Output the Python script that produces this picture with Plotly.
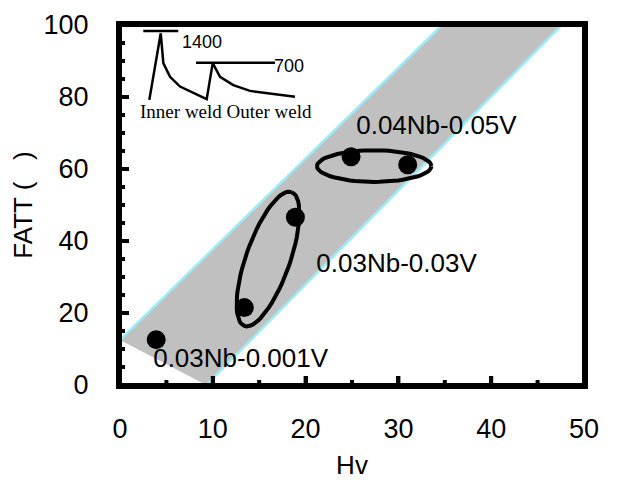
import plotly.graph_objects as go
import numpy as np

# ---- data ----
hv = [3.9, 13.4, 18.9, 24.9, 31.0]
fatt = [12.6, 21.5, 46.6, 63.4, 61.2]

band_upper_x = [0.0, 34.7]
band_upper_y = [12.5, 100.0]
band_lower_x = [9.3, 47.6]
band_lower_y = [0.0, 100.0]

group_labels = ["0.03Nb-0.001V", "0.03Nb-0.03V", "0.04Nb-0.05V"]
label_x = [13.0, 29.8, 34.1]
label_y = [6.7, 33.1, 71.4]

ell_cx = [15.95, 27.39]
ell_cy = [35.0, 60.8]
ell_a = [71.0, 57.2]
ell_b = [22.0, 15.8]
ell_ang = [70.6, 0.0]

cyc_x = [3.16, 4.39, 4.67, 5.39, 6.47, 9.34, 9.99, 10.78, 12.21, 14.01, 18.86]
cyc_y = [79.2, 97.7, 89.4, 85.6, 82.9, 79.4, 89.4, 85.6, 83.3, 81.7, 80.1]
peak1_x = [2.51, 6.28]
peak1_y = [98.3, 98.3]
peak2_x = [8.19, 16.7]
peak2_y = [89.5, 89.5]
inset_labels = ["1400", "700"]
inset_label_x = [8.84, 18.2]
inset_label_y = [95.0, 88.3]
weld_label = "Inner weld Outer weld"
weld_label_x = 11.4
weld_label_y = 75.6

x_range = [0, 50]
y_range = [0, 100]
x_ticks = [0, 10, 20, 30, 40, 50]
y_ticks = [0, 20, 40, 60, 80, 100]
x_minor = [5, 15, 25, 35, 45]
y_minor = [5, 10, 15, 25, 30, 35, 45, 50, 55, 65, 70, 75, 85, 90, 95]

W, H = 621, 482
ML, MR, MT, MB = 120, 37, 25, 97
PW, PH = W - ML - MR, H - MT - MB
sx = PW / (x_range[1] - x_range[0])
sy = PH / (y_range[1] - y_range[0])

SANS = "Liberation Sans, Arial"

fig = go.Figure()

bx = [band_lower_x[0], band_upper_x[0], band_upper_x[1], band_lower_x[1], band_lower_x[0]]
by = [band_lower_y[0], band_upper_y[0], band_upper_y[1], band_lower_y[1], band_lower_y[0]]
fig.add_trace(go.Scatter(x=[0] + bx, y=[0] + by, mode="lines", fill="toself",
                         fillcolor="#C0C0C0", line=dict(color="rgba(0,0,0,0)", width=0),
                         hoverinfo="skip", showlegend=False))
for lx, ly in [(band_upper_x, band_upper_y), (band_lower_x, band_lower_y)]:
    fig.add_trace(go.Scatter(x=lx, y=ly, mode="lines", line=dict(color="#9CECF6", width=2.5),
                             hoverinfo="skip", showlegend=False))

for xs, ys in [(cyc_x, cyc_y), (peak1_x, peak1_y), (peak2_x, peak2_y)]:
    fig.add_trace(go.Scatter(x=xs, y=ys, mode="lines", line=dict(color="black", width=2.5),
                             hoverinfo="skip", showlegend=False))

fig.add_trace(go.Scatter(x=hv, y=fatt, mode="markers",
                         marker=dict(color="black", size=19), showlegend=False))

# ellipses as line traces
t = np.linspace(0, 2 * np.pi, 73)
for cx, cy, a, b, ang in zip(ell_cx, ell_cy, ell_a, ell_b, ell_ang):
    th = np.deg2rad(ang)
    px = a * np.cos(t) * np.cos(th) - b * np.sin(t) * np.sin(th)
    py = a * np.cos(t) * np.sin(th) + b * np.sin(t) * np.cos(th)
    fig.add_trace(go.Scatter(x=cx + px / sx, y=cy + py / sy, mode="lines",
                             line=dict(color="black", width=4), hoverinfo="skip", showlegend=False))

# frame and inward ticks (drawn as traces, before any text)
x0, x1 = x_range
y0, y1 = y_range
fig.add_trace(go.Scatter(x=[x0, x1, x1, x0, x0], y=[y0, y0, y1, y1, y0], mode="lines",
                         line=dict(color="black", width=4), cliponaxis=False,
                         hoverinfo="skip", showlegend=False))
tx, ty = [], []
for v in x_ticks:
    tx += [v, v, None]
    ty += [y0, y0 + 9 / sy, None]
for v in x_minor:
    tx += [v, v, None]
    ty += [y0, y0 + 5 / sy, None]
for v in y_ticks:
    tx += [x0, x0 + 9 / sx, None]
    ty += [v, v, None]
for v in y_minor:
    tx += [x0, x0 + 5 / sx, None]
    ty += [v, v, None]
fig.add_trace(go.Scatter(x=tx, y=ty, mode="lines", line=dict(color="black", width=4),
                         cliponaxis=False, hoverinfo="skip", showlegend=False))

# text labels as text traces
fig.add_trace(go.Scatter(x=label_x, y=label_y, mode="text", text=group_labels,
                         textposition="middle center", cliponaxis=False,
                         textfont=dict(family=SANS, size=26, color="black"),
                         hoverinfo="skip", showlegend=False))
fig.add_trace(go.Scatter(x=inset_label_x, y=inset_label_y, mode="text", text=inset_labels,
                         textposition="middle center", cliponaxis=False,
                         textfont=dict(family=SANS, size=18, color="black"),
                         hoverinfo="skip", showlegend=False))
fig.add_trace(go.Scatter(x=[weld_label_x], y=[weld_label_y], mode="text", text=[weld_label],
                         textposition="middle center", cliponaxis=False,
                         textfont=dict(family="Liberation Serif, Times New Roman", size=19, color="black"),
                         hoverinfo="skip", showlegend=False))

axis_common = dict(showline=True, linewidth=4, linecolor="black", mirror=True,
                   ticks="inside", ticklen=9, tickwidth=4, tickcolor="black",
                   showgrid=False, zeroline=False, automargin=False,
                   tickfont=dict(family=SANS, size=27, color="black"))

fig.update_layout(
    width=W, height=H,
    margin=dict(l=ML, r=MR, t=MT, b=MB),
    paper_bgcolor="white", plot_bgcolor="white",
    xaxis=dict(range=x_range, tickvals=x_ticks, ticklabelstandoff=17,
               title=dict(text="\u00a0\u00a0\u00a0\u00a0\u00a0Hv", standoff=13,
                          font=dict(family=SANS, size=26, color="black")),
               **axis_common),
    yaxis=dict(range=y_range, tickvals=y_ticks, ticklabelstandoff=22,
               title=dict(text="\u00a0" * 9 + "FATT (\u00a0\u00a0\u00a0)", standoff=4,
                          font=dict(family=SANS, size=26, color="black")),
               **axis_common),
    showlegend=False,
)

fig.write_html("out.html")
